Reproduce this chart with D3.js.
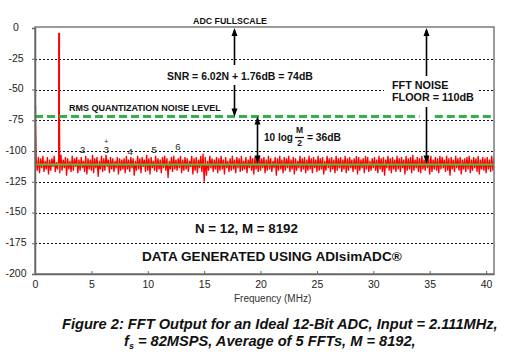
<!DOCTYPE html>
<html>
<head>
<meta charset="utf-8">
<script src="https://cdn.jsdelivr.net/npm/d3@7"></script>
<style>
  html, body { margin: 0; padding: 0; background: #fff; }
  svg { display: block; }
  text { font-family: "Liberation Sans", Arial, Helvetica, sans-serif; }
</style>
</head>
<body>
<svg id="chart" width="506" height="355"></svg>
<script>
// ---------------- data ----------------
const xTicks = [0, 5, 10, 15, 20, 25, 30, 35, 40];
const yTicks = [0, -25, -50, -75, -100, -125, -150, -175, -200];
const gridDb = [-25, -50, -75, -100, -125, -150, -175];

// FFT bin spacing used for the noise readings (MHz)
const noiseStepMHz = 0.1;
// noise floor readings (dB), starting at 0.1 MHz, one per 0.1 MHz
const noiseDb = [
 -107,-116,-105,-118,-106,-114,-104,-117,-108,-115,-105,-119,-107,-116,-106,-113,-104,-117,-109,-115,
 -106,-118,-103,-116,-107,-114,-105,-120,-106,-115,-108,-117,-104,-116,-106,-113,-105,-118,-107,-116,
 -105,-114,-108,-117,-104,-119,-106,-115,-107,-116,-103,-118,-106,-114,-105,-121,-108,-115,-104,-117,
 -106,-116,-103,-113,-107,-118,-105,-115,-106,-117,-108,-114,-105,-119,-106,-116,-107,-115,-106,-118,
 -104,-115,-107,-117,-105,-114,-106,-120,-108,-116,-104,-115,-106,-118,-105,-113,-107,-117,-103,-116,
 -106,-119,-105,-114,-108,-116,-104,-117,-106,-115,-107,-118,-105,-114,-104,-116,-106,-122,-108,-115,
 -105,-117,-104,-115,-107,-116,-106,-114,-104,-118,-107,-116,-105,-115,-106,-117,-108,-113,-104,-119,
 -106,-116,-105,-118,-107,-114,-104,-117,-102,-125,-105,-120,-108,-116,-104,-114,-106,-117,-107,-115,
 -105,-118,-106,-116,-104,-115,-107,-119,-105,-114,-108,-117,-106,-116,-104,-115,-107,-118,-105,-114,
 -106,-117,-104,-116,-108,-115,-105,-118,-107,-114,-104,-116,-106,-119,-105,-115,-107,-117,-104,-116,
 -106,-114,-105,-118,-107,-116,-104,-115,-106,-117,-108,-114,-105,-120,-106,-116,-104,-115,-107,-118,
 -105,-116,-106,-114,-104,-117,-107,-115,-105,-119,-106,-116,-108,-114,-104,-117,-106,-115,-105,-118,
 -107,-116,-104,-115,-106,-118,-105,-114,-107,-117,-104,-116,-106,-115,-105,-119,-108,-116,-104,-114,
 -106,-117,-105,-115,-107,-118,-104,-116,-106,-114,-105,-117,-107,-115,-104,-118,-106,-116,-105,-114,
 -107,-117,-106,-115,-104,-119,-105,-116,-107,-114,-106,-118,-104,-115,-105,-117,-108,-116,-106,-114,
 -105,-116,-107,-118,-104,-115,-106,-117,-105,-120,-107,-114,-104,-116,-106,-118,-105,-115,-107,-117,
 -104,-115,-106,-117,-105,-114,-107,-119,-104,-116,-106,-115,-105,-118,-103,-116,-107,-114,-105,-117,
 -106,-118,-104,-115,-107,-116,-105,-114,-106,-119,-104,-117,-107,-115,-105,-116,-106,-118,-104,-115,
 -105,-114,-107,-117,-104,-116,-106,-120,-105,-115,-107,-117,-104,-114,-106,-116,-105,-119,-107,-115,
 -106,-117,-105,-115,-104,-118,-107,-116,-105,-114,-106,-117,-104,-119,-107,-115,-105,-116,-106,-118,
 -105,-115,-107,-117,-104,-116,-106,-114,-105,-118
];
// discrete tones: DC and the 2.111 MHz input
const toneF  = [0, 2.111];
const toneDb = [-63, -4];

// harmonic labels
const harmLabels = ["2", "3", "4", "5", "6"];
const harmF      = [4.222, 6.333, 8.444, 10.555, 12.666];
const harmDb     = [-102, -101.5, -103, -101.5, -99];

// levels
const rmsNoiseDb = -72;     // RMS quantization noise level (green dashed)
const floorDb    = -111;    // averaged FFT noise floor (green line)
const fullDb     = 0;

// ---------------- chart ----------------
const svg = d3.select("#chart");
const x = d3.scaleLinear().domain([0, 40.7]).range([35, 494]);
const y = d3.scaleLinear().domain([0, -200]).range([28, 274]);

svg.append("defs").append("clipPath").attr("id", "plotclip")
  .append("rect").attr("x", 35).attr("y", 27).attr("width", 459).attr("height", 247);

// grid
svg.append("g").selectAll("line").data(gridDb).join("line")
  .attr("x1", x(0)).attr("x2", x(40.7))
  .attr("y1", d => Math.round(y(d)) + 0.5).attr("y2", d => Math.round(y(d)) + 0.5)
  .attr("stroke", "#111").attr("stroke-width", 1).attr("stroke-dasharray", "2,2");

// series
const pts = noiseDb.map((d, i) => ({ f: (i + 1) * noiseStepMHz, db: d }))
  .concat(toneF.map((f, i) => ({ f: f, db: toneDb[i] })))
  .sort((a, b) => a.f - b.f);

const plot = svg.append("g").attr("clip-path", "url(#plotclip)");
plot.append("path").datum(pts)
  .attr("fill", "none").attr("stroke", "#ff0000").attr("stroke-width", 1.3)
  .attr("stroke-linejoin", "miter")
  .attr("d", d3.line().x(d => x(d.f)).y(d => y(d.db)));
// emphasise tones
plot.selectAll("line.tone").data(toneF).join("line").attr("class", "tone")
  .attr("x1", (d) => x(d) + 0.5).attr("x2", d => x(d) + 0.5)
  .attr("y1", y(-110)).attr("y2", (d, i) => y(toneDb[i]))
  .attr("stroke", "#ff0000").attr("stroke-width", 1.5);

// averaged noise floor
plot.append("line")
  .attr("x1", x(0)).attr("x2", x(40.7))
  .attr("y1", y(floorDb)).attr("y2", y(floorDb))
  .attr("stroke", "#55c43a").attr("stroke-width", 2);

// RMS quantization noise level (dashed green)
const rmsSegs = [[0, 34.1], [35.45, 40.7]];
svg.append("g").selectAll("line").data(rmsSegs).join("line")
  .attr("x1", d => x(d[0])).attr("x2", d => x(d[1]))
  .attr("y1", y(rmsNoiseDb)).attr("y2", y(rmsNoiseDb))
  .attr("stroke", "#33b04a").attr("stroke-width", 3).attr("stroke-dasharray", "8,4");

// frame
svg.append("rect").attr("x", 35).attr("y", 27).attr("width", 459).attr("height", 247)
  .attr("fill", "none").attr("stroke", "#7a7a7a").attr("stroke-width", 1.5);

// axes
const gy = svg.append("g").attr("transform", "translate(35,0)")
  .call(d3.axisLeft(y).tickValues(yTicks).tickSize(3).tickFormat(d => d));
gy.select(".domain").attr("stroke", "#666").attr("stroke-width", 1.5);
gy.selectAll(".tick line").attr("stroke", "#666");
gy.selectAll("text").attr("x", -19).attr("y", -1).attr("text-anchor", "middle")
  .style("font-size", "10.5px").attr("fill", "#222")
  .style("font-family", '"Liberation Sans", Arial, sans-serif');

const gx = svg.append("g").attr("transform", "translate(0,274)")
  .call(d3.axisBottom(x).tickValues(xTicks).tickSizeInner(-3).tickSizeOuter(0).tickFormat(d => d));
gx.select(".domain").attr("stroke", "#666").attr("stroke-width", 1.5);
gx.selectAll(".tick line").attr("stroke", "#666");
gx.selectAll("text").attr("y", 6.5).style("font-size", "10.5px").attr("fill", "#222")
  .style("font-family", '"Liberation Sans", Arial, sans-serif');

svg.append("text").attr("x", 234).attr("y", 302).text("Frequency (MHz)")
  .style("font-size", "10px").attr("fill", "#333");

// ---------------- annotations ----------------
function fit(sel, w) {
  const cur = parseFloat(sel.style("font-size"));
  const len = sel.node().getComputedTextLength();
  sel.style("font-size", (cur * w / len) + "px");
  return sel;
}
function head(g, xp, yt, dir) { // dir -1: pointing up, +1: pointing down
  g.append("path")
    .attr("d", `M${xp},${yt} L${xp - 3},${yt - dir * 8} L${xp + 3},${yt - dir * 8} Z`)
    .attr("fill", "#000");
}
function vline(g, xp, y1, y2) {
  g.append("line").attr("x1", xp).attr("x2", xp).attr("y1", y1).attr("y2", y2)
    .attr("stroke", "#000").attr("stroke-width", 1.6);
}
const ann = svg.append("g");

// ADC FULLSCALE
fit(ann.append("text").attr("x", 230).attr("y", 23.5).attr("text-anchor", "middle")
  .style("font-weight", "bold").style("font-size", "9px").attr("fill", "#111")
  .text("ADC FULLSCALE"), 74);

// SNR arrow
const xs = Math.round(x(17.65)) + 0.5;
vline(ann, xs, y(fullDb) + 2, 65);
vline(ann, xs, 85, y(rmsNoiseDb) - 2);
head(ann, xs, y(fullDb), -1);
head(ann, xs, y(rmsNoiseDb), 1);
fit(ann.append("text").attr("x", 240).attr("y", 80).attr("text-anchor", "middle")
  .style("font-weight", "bold").style("font-size", "10.5px").attr("fill", "#111")
  .text("SNR = 6.02N + 1.76dB = 74dB"), 146);

// RMS label
fit(ann.append("text").attr("x", 69).attr("y", 110.5)
  .style("font-weight", "bold").style("font-size", "9.3px").attr("fill", "#111")
  .text("RMS QUANTIZATION NOISE LEVEL"), 152);

// 10 log M/2 arrow
const xl = Math.round(x(19.68)) + 0.5;
vline(ann, xl, y(rmsNoiseDb) + 2, y(floorDb) - 2);
head(ann, xl, y(rmsNoiseDb), -1);
head(ann, xl, y(floorDb) - 1, 1);
ann.append("text").attr("x", 264).attr("y", 140.5)
  .style("font-weight", "bold").style("font-size", "10px").attr("fill", "#111")
  .text("10 log");
ann.append("text").attr("x", 299.5).attr("y", 133).attr("text-anchor", "middle")
  .style("font-weight", "bold").style("font-size", "8.5px").attr("fill", "#111").text("M");
ann.append("line").attr("x1", 295).attr("x2", 304).attr("y1", 137.5).attr("y2", 137.5)
  .attr("stroke", "#111").attr("stroke-width", 1.2);
ann.append("text").attr("x", 299.5).attr("y", 146).attr("text-anchor", "middle")
  .style("font-weight", "bold").style("font-size", "8.5px").attr("fill", "#111").text("2");
ann.append("text").attr("x", 307).attr("y", 140.5)
  .style("font-weight", "bold").style("font-size", "10.3px").attr("fill", "#111")
  .text("= 36dB");

// FFT noise floor arrow + box
const xf = Math.round(x(34.67)) + 0.5;
ann.append("rect").attr("x", 384).attr("y", 76).attr("width", 94).attr("height", 30).attr("fill", "#fff");
vline(ann, xf, y(fullDb) + 2, 76);
vline(ann, xf, 107, y(floorDb) - 2);
head(ann, xf, y(fullDb), -1);
head(ann, xf, y(floorDb) - 1, 1);
ann.append("text").attr("x", 392).attr("y", 88.5)
  .style("font-weight", "bold").style("font-size", "10.8px").attr("fill", "#111")
  .text("FFT NOISE");
ann.append("text").attr("x", 392).attr("y", 101)
  .style("font-weight", "bold").style("font-size", "10.8px").attr("fill", "#111")
  .text("FLOOR = 110dB");

// harmonic labels
const hg = ann.append("g");
hg.selectAll("text").data(harmLabels).join("text")
  .attr("x", (d, i) => x(harmF[i])).attr("y", (d, i) => y(harmDb[i]))
  .attr("text-anchor", "middle").style("font-size", "9.5px").attr("fill", "#222")
  .text(d => d);
hg.append("text").attr("x", x(harmF[1])).attr("y", y(-94.5)).attr("text-anchor", "middle")
  .style("font-size", "7px").attr("fill", "#222").text("+");

// N, M and data source text
fit(ann.append("text").attr("x", 195).attr("y", 232.5)
  .style("font-weight", "bold").style("font-size", "13.5px").attr("fill", "#111")
  .text("N = 12, M = 8192"), 103);
fit(ann.append("text").attr("x", 142).attr("y", 261)
  .style("font-weight", "bold").style("font-size", "13.5px").attr("fill", "#111")
  .text("DATA GENERATED USING ADIsimADC®"), 260);

// caption
const cap1 = ann.append("text").attr("x", 62).attr("y", 329)
  .style("font-weight", "bold").style("font-style", "italic").style("font-size", "14px").attr("fill", "#111")
  .text("Figure 2: FFT Output for an Ideal 12-Bit ADC, Input = 2.111MHz,");
fit(cap1, 436);
const capSize = cap1.style("font-size");
const cap2 = ann.append("text").attr("x", 124).attr("y", 346)
  .style("font-weight", "bold").style("font-style", "italic").style("font-size", capSize).attr("fill", "#111");
cap2.append("tspan").text("f");
cap2.append("tspan").attr("dy", 3).style("font-size", "9px").text("s");
cap2.append("tspan").attr("dy", -3).text(" = 82MSPS, Average of 5 FFTs, M = 8192,");
</script>
</body>
</html>
